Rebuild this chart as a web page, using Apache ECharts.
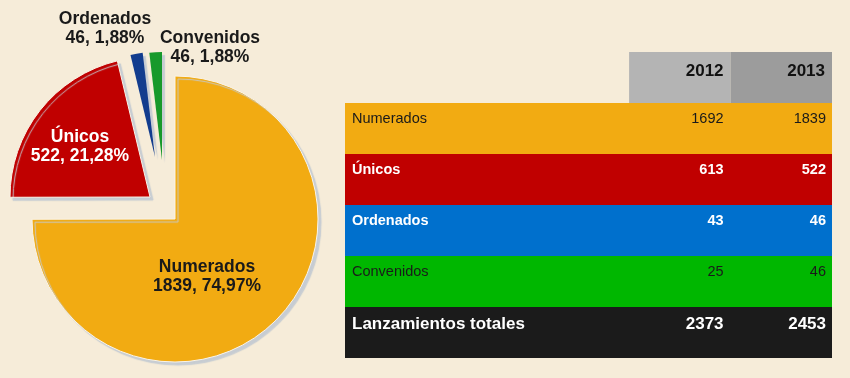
<!DOCTYPE html>
<html>
<head>
<meta charset="utf-8">
<script src="https://cdn.jsdelivr.net/npm/echarts@6/dist/echarts.min.js"></script>
<style>
html,body{margin:0;padding:0;background:#f6ecd9;}
#c{width:850px;height:378px;}
</style>
</head>
<body>
<div id="c"></div>
<script>
// ---- data ----
const categories = ['Numerados', 'Únicos', 'Ordenados', 'Convenidos'];
const years = ['2012', '2013'];
const values2012 = [1692, 613, 43, 25];
const values2013 = [1839, 522, 46, 46];
const totalLabel = 'Lanzamientos totales';
const totals = [2373, 2453];

// ---- styles / layout ----
const FONT = '"Liberation Sans", Arial, sans-serif';
const pieColors = ['#f2ab12', '#c00000', '#123c8e', '#17992b'];
const pieLabelColors = ['#1a1a1a', '#ffffff', '#1a1a1a', '#1a1a1a'];
const sliceLayout = [
  { center: [175, 219], radius: 143, label: [207, 277], border: 1 },
  { center: [150, 197], radius: 140, label: [80, 147], border: 1 },
  { center: [155, 157], radius: 105, label: [105, 29], border: 0 },
  { center: [162, 160], radius: 108, label: [210, 48], border: 0 }
];
const rowColors = ['#f2ab12', '#c00000', '#0070cd', '#00b700'];
const rowTextColors = ['#1a1a1a', '#ffffff', '#ffffff', '#1a1a1a'];
const rowBold = [false, true, true, false];
const headerColors = ['#b4b4b4', '#9c9c9c'];
const totalColor = '#1b1b1b';
const colEdges = [0, 14, 19, 24];

const pieTotal = values2013.reduce((a, b) => a + b, 0);
function pctText(v) {
  return (v / pieTotal * 100).toFixed(2).replace('.', ',');
}

const pieSeries = sliceLayout.map((lay, i) => ({
  type: 'pie',
  center: lay.center,
  radius: lay.radius,
  startAngle: 90,
  clockwise: true,
  silent: true,
  animation: false,
  avoidLabelOverlap: false,
  z: i === 0 ? 2 : 3,
  label: {
    position: 'inside',
    fontFamily: FONT,
    fontWeight: 'bold',
    fontSize: 17.5,
    lineHeight: 19,
    color: pieLabelColors[i],
    formatter: p => p.name + '\n' + p.value + ', ' + pctText(p.value) + '%'
  },
  labelLine: { show: false },
  labelLayout: p => p.dataIndex === i
    ? { x: lay.label[0], y: lay.label[1], align: 'center', verticalAlign: 'middle' }
    : {},
  data: categories.map((name, j) => ({
    name: name,
    value: values2013[j],
    itemStyle: j === i
      ? { color: pieColors[j], borderColor: '#faf4e8', borderWidth: lay.border,
          shadowColor: 'rgba(196,202,210,0.95)', shadowBlur: 1, shadowOffsetX: 3, shadowOffsetY: 3 }
      : { color: 'rgba(0,0,0,0)', borderWidth: 0 },
    label: { show: j === i },
    labelLine: { show: false }
  }))
}));

const rowNames = [''].concat(categories, [totalLabel]);

const tableSeries = {
  type: 'custom',
  xAxisIndex: 0,
  yAxisIndex: 0,
  silent: true,
  animation: false,
  data: rowNames.map((n, i) => [0, i]),
  renderItem: function (params, api) {
    const r = api.value(1);
    const h = api.size([0, 1])[1];
    const cy = api.coord([0, r])[1];
    const top = cy - h / 2;
    const xs = colEdges.map(e => api.coord([e, r])[0]);
    const children = [];
    const txt = (text, x, y, color, bold, size, align) => ({
      type: 'text', x: x, y: y,
      style: {
        text: String(text), fill: color,
        font: (bold ? 'bold ' : '') + size + 'px ' + FONT,
        align: align, verticalAlign: 'middle'
      }
    });
    if (r === 0) {
      for (let k = 0; k < 2; k++) {
        children.push({ type: 'rect', shape: { x: xs[k + 1], y: top, width: xs[k + 2] - xs[k + 1], height: h },
          style: { fill: headerColors[k] } });
        children.push(txt(years[k], xs[k + 2] - 7, top + 19, '#111111', true, 17, 'right'));
      }
    } else if (r <= categories.length) {
      const j = r - 1;
      children.push({ type: 'rect', shape: { x: xs[0], y: top, width: xs[3] - xs[0], height: h },
        style: { fill: rowColors[j] } });
      children.push(txt(categories[j], xs[0] + 7, top + 16, rowTextColors[j], rowBold[j], 14.5, 'left'));
      children.push(txt(values2012[j], xs[2] - 7, top + 16, rowTextColors[j], rowBold[j], 14.5, 'right'));
      children.push(txt(values2013[j], xs[3] - 6, top + 16, rowTextColors[j], rowBold[j], 14.5, 'right'));
    } else {
      children.push({ type: 'rect', shape: { x: xs[0], y: top, width: xs[3] - xs[0], height: h },
        style: { fill: totalColor } });
      children.push(txt(totalLabel, xs[0] + 7, top + 17, '#ffffff', true, 17, 'left'));
      children.push(txt(totals[0], xs[2] - 7, top + 17, '#ffffff', true, 17, 'right'));
      children.push(txt(totals[1], xs[3] - 6, top + 17, '#ffffff', true, 17, 'right'));
    }
    return { type: 'group', children: children };
  }
};

const chart = echarts.init(document.getElementById('c'), null, { renderer: 'canvas' });
chart.setOption({
  backgroundColor: '#f6ecd9',
  animation: false,
  grid: { left: 345, right: 18, top: 52, bottom: 20 },
  xAxis: { type: 'value', min: colEdges[0], max: colEdges[colEdges.length - 1], show: false },
  yAxis: { type: 'category', inverse: true, data: rowNames, show: false },
  series: pieSeries.concat([tableSeries])
});
</script>
</body>
</html>
